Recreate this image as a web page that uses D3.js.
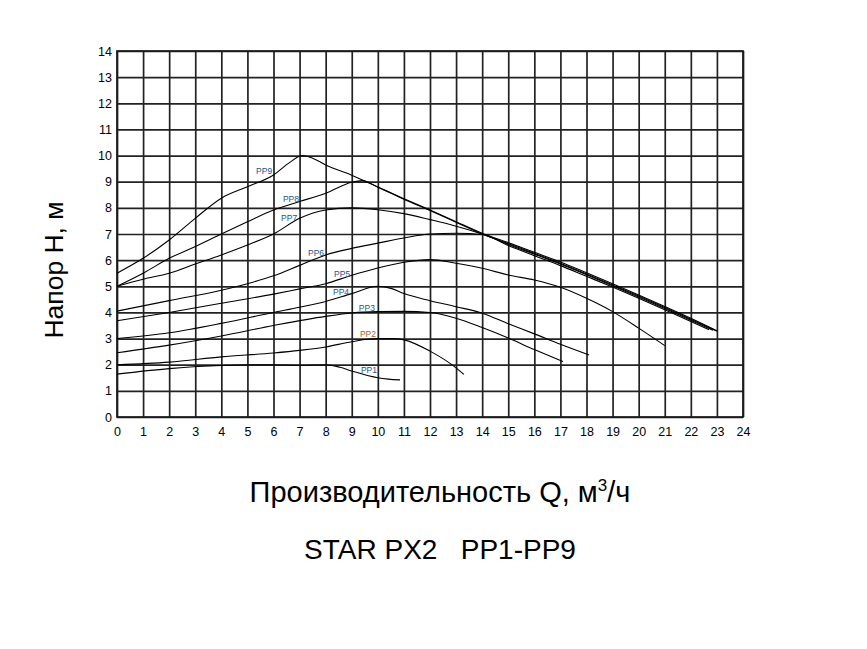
<!DOCTYPE html>
<html>
<head>
<meta charset="utf-8">
<script src="https://cdn.jsdelivr.net/npm/d3@7"></script>
<style>
  html, body { margin: 0; padding: 0; background: #fff; }
  svg { display: block; font-family: "Liberation Sans", Arial, sans-serif; }
</style>
</head>
<body>
<svg id="chart" width="867" height="649"></svg>
<script>
// ---- Data (Q in m3/h, H in m) ----
const xTicks = d3.range(0, 25, 1);
const yTicks = d3.range(0, 15, 1);

const pp1Q = [0, 2, 4, 6, 7, 8, 8.55, 9, 10, 10.4, 10.85];
const pp1H = [1.64, 1.85, 1.97, 2.0, 1.98, 2.0, 1.9, 1.76, 1.5, 1.45, 1.42];

const pp2Q = [0, 2, 4, 6, 7, 8, 9, 10, 10.6, 11, 12, 13, 13.3];
const pp2H = [2.0, 2.1, 2.3, 2.45, 2.55, 2.68, 2.88, 3.0, 3.0, 2.95, 2.52, 1.88, 1.63];

const pp3Q = [0, 2, 4, 6, 8, 9, 10, 11, 12, 13, 14, 15, 16, 17.1];
const pp3H = [2.46, 2.75, 3.1, 3.5, 3.85, 3.98, 4.03, 4.04, 4.0, 3.78, 3.42, 3.02, 2.58, 2.12];

const pp4Q = [0, 2, 4, 6, 7, 8, 9, 10, 10.5, 11, 12, 13, 14, 15, 16, 17, 18.1];
const pp4H = [3.0, 3.22, 3.58, 4.0, 4.2, 4.42, 4.72, 5.0, 4.92, 4.72, 4.45, 4.22, 3.97, 3.57, 3.18, 2.78, 2.37];

const pp5Q = [0, 2, 4, 6, 7, 8, 9, 10, 11, 12, 13, 14, 15, 16, 17, 18, 19, 20, 21];
const pp5H = [3.68, 4.0, 4.35, 4.7, 4.9, 5.1, 5.42, 5.7, 5.92, 6.02, 5.88, 5.69, 5.43, 5.24, 4.96, 4.54, 4.03, 3.4, 2.73];

const pp6Q = [0, 2, 4, 5, 6, 7, 8, 9, 10, 11, 12, 13, 14, 15, 16, 17, 18, 19, 20, 21, 22, 22.7];
const pp6H = [4.05, 4.45, 4.85, 5.1, 5.4, 5.8, 6.2, 6.45, 6.65, 6.85, 7.0, 7.03, 6.98, 6.56, 6.17, 5.79, 5.38, 4.97, 4.54, 4.1, 3.65, 3.34];

const pp7Q = [0, 1, 2, 3, 4, 5, 6, 7, 8, 9, 10, 11, 12, 13, 14, 15, 16, 17, 18, 19, 20, 21, 22, 22.85];
const pp7H = [5.0, 5.27, 5.5, 5.85, 6.2, 6.58, 7.0, 7.6, 7.92, 8.0, 7.93, 7.78, 7.55, 7.3, 7.0, 6.6, 6.23, 5.85, 5.44, 5.02, 4.59, 4.15, 3.7, 3.32];

const pp8Q = [0, 1, 2, 3, 4, 5, 6, 7, 8, 9, 9.4, 10, 11, 12, 13, 14, 15, 16, 17, 18, 19, 20, 21, 22, 23];
const pp8H = [5.0, 5.5, 6.07, 6.52, 7.0, 7.47, 7.92, 8.24, 8.56, 8.98, 9.04, 8.79, 8.33, 7.9, 7.45, 7.0, 6.63, 6.26, 5.88, 5.47, 5.05, 4.63, 4.19, 3.74, 3.28];

const pp9Q = [0, 1, 2, 3, 4, 5, 6, 6.6, 7.1, 7.5, 8, 9, 10, 11, 12, 13, 14, 15, 16, 17, 18, 19, 20, 21, 22, 23];
const pp9H = [5.5, 6.07, 6.77, 7.6, 8.37, 8.81, 9.26, 9.72, 10.0, 9.9, 9.64, 9.25, 8.8, 8.35, 7.92, 7.47, 7.03, 6.67, 6.3, 5.93, 5.52, 5.1, 4.67, 4.23, 3.78, 3.3];

const curveNames = ["PP1", "PP2", "PP3", "PP4", "PP5", "PP6", "PP7", "PP8", "PP9"];
const curveQ = [pp1Q, pp2Q, pp3Q, pp4Q, pp5Q, pp6Q, pp7Q, pp8Q, pp9Q];
const curveH = [pp1H, pp2H, pp3H, pp4H, pp5H, pp6H, pp7H, pp8H, pp9H];

// label anchor points (data coordinates)
const labelQ = [9.66, 9.62, 9.58, 8.59, 8.63, 7.63, 6.6, 6.67, 5.64];
const labelH = [1.8, 3.18, 4.17, 4.78, 5.47, 6.27, 7.63, 8.34, 9.41];

const xTitle = "Производительность Q, м";
const xTitleSup = "3";
const xTitleEnd = "/ч";
const yTitle = "Напор Н, м";
const chartTitle = "STAR PX2   PP1-PP9";

// ---- Layout ----
const svg = d3.select("#chart");
const mLeft = 117, mRight = 743, mTop = 51, mBottom = 417;
const pw = mRight - mLeft, ph = mBottom - mTop;

const x = d3.scaleLinear().domain([0, 24]).range([mLeft, mRight]);
const y = d3.scaleLinear().domain([0, 14]).range([mBottom, mTop]);

// grid + axes
const gx = svg.append("g")
  .attr("transform", `translate(0,${mBottom})`)
  .call(d3.axisBottom(x).tickValues(xTicks).tickSize(-ph).tickPadding(10).tickFormat(d3.format("d")));
const gy = svg.append("g")
  .attr("transform", `translate(${mLeft},0)`)
  .call(d3.axisLeft(y).tickValues(yTicks).tickSize(-pw).tickPadding(5).tickFormat(d3.format("d")));

[gx, gy].forEach(g => {
  g.select(".domain").remove();
  g.selectAll(".tick line").attr("stroke", "#222").attr("stroke-width", 1.7);
  g.selectAll(".tick text").attr("fill", "#000").style("font-size", "12.5px")
    .style("font-family", "'Liberation Sans', Arial, sans-serif");
});

// frame
svg.append("rect").attr("x", mLeft).attr("y", mTop).attr("width", pw).attr("height", ph)
  .attr("fill", "none").attr("stroke", "#1a1a1a").attr("stroke-width", 1.7);

// curves
const line = d3.line().x(d => x(d[0])).y(d => y(d[1])).curve(d3.curveMonotoneX);
curveNames.forEach((name, i) => {
  const pts = curveQ[i].map((q, j) => [q, curveH[i][j]]);
  svg.append("path").datum(pts)
    .attr("d", line)
    .attr("fill", "none")
    .attr("stroke", "#000")
    .attr("stroke-width", 1.1);
});

// curve labels
curveNames.forEach((name, i) => {
  svg.append("text")
    .attr("x", x(labelQ[i])).attr("y", y(labelH[i]))
    .attr("text-anchor", "middle").attr("dy", "0.35em")
    .style("font-size", "8.5px")
    .attr("fill", name === "PP2" ? "#a8622a" : "#24508f")
    .text(name);
});

// axis titles
const xt = svg.append("text")
  .attr("x", 440).attr("y", 502)
  .attr("text-anchor", "middle")
  .style("font-size", "29px").attr("fill", "#000");
xt.append("tspan").text(xTitle);
xt.append("tspan").text(xTitleSup).attr("dy", "-11").style("font-size", "17px");
xt.append("tspan").text(xTitleEnd).attr("dy", "11");

svg.append("text")
  .attr("transform", `translate(63,270) rotate(-90)`)
  .attr("text-anchor", "middle")
  .style("font-size", "26.5px").attr("fill", "#000")
  .text(yTitle);

svg.append("text")
  .attr("x", 440).attr("y", 559)
  .attr("text-anchor", "middle")
  .style("font-size", "28px").style("white-space", "pre").attr("xml:space", "preserve")
  .attr("fill", "#000")
  .text(chartTitle);
</script>
</body>
</html>
